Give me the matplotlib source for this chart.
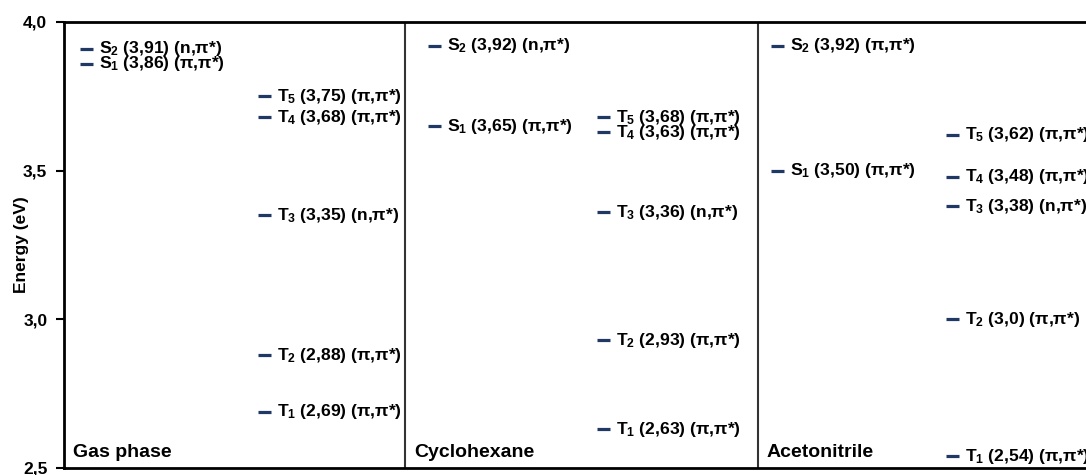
import matplotlib.pyplot as plt

plt.rcParams['font.family'] = ['Liberation Sans', 'DejaVu Sans']
plt.rcParams['font.weight'] = 'bold'
plt.rcParams['mathtext.fontset'] = 'custom'
plt.rcParams['mathtext.rm'] = 'Liberation Sans:bold'
plt.rcParams['mathtext.bf'] = 'Liberation Sans:bold'
plt.rcParams['mathtext.it'] = 'Liberation Sans:bold'

# data
phases = ['Gas phase', 'Cyclohexane', 'Acetonitrile']

gas_states = ['S2', 'S1', 'T5', 'T4', 'T3', 'T2', 'T1']
gas_energy = [3.91, 3.86, 3.75, 3.68, 3.35, 2.88, 2.69]
gas_text = ['3,91', '3,86', '3,75', '3,68', '3,35', '2,88', '2,69']
gas_char = ['n,π*', 'π,π*', 'π,π*', 'π,π*', 'n,π*', 'π,π*', 'π,π*']

cyc_states = ['S2', 'S1', 'T5', 'T4', 'T3', 'T2', 'T1']
cyc_energy = [3.92, 3.65, 3.68, 3.63, 3.36, 2.93, 2.63]
cyc_text = ['3,92', '3,65', '3,68', '3,63', '3,36', '2,93', '2,63']
cyc_char = ['n,π*', 'π,π*', 'π,π*', 'π,π*', 'n,π*', 'π,π*', 'π,π*']

ace_states = ['S2', 'S1', 'T5', 'T4', 'T3', 'T2', 'T1']
ace_energy = [3.92, 3.50, 3.62, 3.48, 3.38, 3.00, 2.54]
ace_text = ['3,92', '3,50', '3,62', '3,48', '3,38', '3,0', '2,54']
ace_char = ['π,π*', 'π,π*', 'π,π*', 'π,π*', 'n,π*', 'π,π*', 'π,π*']

y_ticks = [2.5, 3.0, 3.5, 4.0]
y_ticklabels = ['2,5', '3,0', '3,5', '4,0']

# layout (x in pixel-like units of the panel strip)
dividers = [405, 758]
s_x = [80, 428, 771]
t_x = [258, 597, 946]
title_x = [73, 414, 767]
mark_len = 13
navy = '#1f3864'

fig = plt.figure(figsize=(10.86, 4.75), dpi=100)
ax = fig.add_axes([64 / 1086, 7 / 475, 1 - 64 / 1086, 446 / 475])
ax.set_xlim(64, 1086)
ax.set_ylim(2.5, 4.0)

all_sets = [
    (gas_states, gas_energy, gas_text, gas_char),
    (cyc_states, cyc_energy, cyc_text, cyc_char),
    (ace_states, ace_energy, ace_text, ace_char),
]

for i, (states, energy, txt, char) in enumerate(all_sets):
    for st, e, t, c in zip(states, energy, txt, char):
        x0 = s_x[i] if st[0] == 'S' else t_x[i]
        ax.plot([x0, x0 + mark_len], [e, e], color=navy, lw=2.3, solid_capstyle='butt')
        label = r'$\mathregular{%s_{%s}}$ (%s) (%s)' % (st[0], st[1], t, c)
        ax.text(x0 + mark_len + 6, e, label, fontsize=12.6, fontweight='bold',
                va='center', ha='left', clip_on=False)
    ax.text(title_x[i], 2.537, phases[i], fontsize=14, fontweight='bold',
            va='baseline', ha='left')

for d in dividers:
    ax.axvline(d, color='#333333', lw=1.5)

ax.set_yticks(y_ticks)
ax.set_yticklabels(y_ticklabels, fontsize=12.5, fontweight='bold')
ax.set_xticks([])
ax.tick_params(axis='y', direction='out', length=6, width=1.5, pad=6)
ax.set_ylabel('Energy (eV)', fontsize=12.5, fontweight='bold', va='center')
ax.yaxis.set_label_coords(-42 / 1022, 0.5)
for side in ['left', 'top', 'bottom']:
    ax.spines[side].set_linewidth(2)
ax.spines['right'].set_visible(False)

fig.savefig('out.png', dpi=100)
